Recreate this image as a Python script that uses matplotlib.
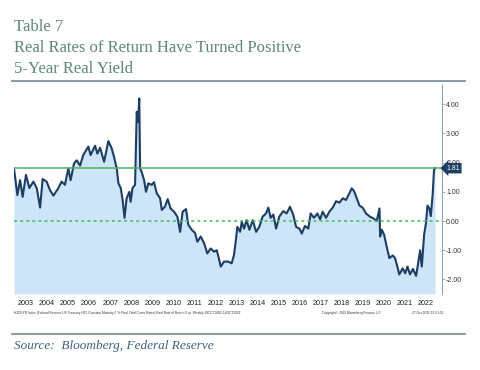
import matplotlib.pyplot as plt

# weekly 5yr real yield (fractional years, percent)
years = [2002.80, 2002.96, 2003.09, 2003.21, 2003.37, 2003.53, 2003.72, 2003.88, 2004.04, 2004.16,
         2004.35, 2004.51, 2004.67, 2004.91, 2005.06, 2005.22, 2005.38, 2005.49, 2005.65, 2005.78,
         2005.94, 2006.09, 2006.33, 2006.44, 2006.65, 2006.76, 2006.89, 2007.08, 2007.28, 2007.44,
         2007.55, 2007.68, 2007.76, 2007.87, 2007.96, 2008.05, 2008.15, 2008.28, 2008.34, 2008.43,
         2008.55, 2008.63, 2008.69, 2008.75, 2008.79, 2008.87, 2008.98, 2009.07, 2009.18, 2009.34,
         2009.45, 2009.58, 2009.74, 2009.82, 2009.97, 2010.10, 2010.24, 2010.40, 2010.56, 2010.69,
         2010.81, 2010.97, 2011.08, 2011.24, 2011.40, 2011.51, 2011.67, 2011.83, 2011.98, 2012.14,
         2012.30, 2012.43, 2012.51, 2012.62, 2012.78, 2012.98, 2013.14, 2013.25, 2013.35, 2013.41,
         2013.54, 2013.62, 2013.73, 2013.85, 2013.98, 2014.14, 2014.30, 2014.45, 2014.61, 2014.77,
         2014.88, 2014.99, 2015.12, 2015.25, 2015.40, 2015.59, 2015.75, 2015.91, 2016.07, 2016.20,
         2016.36, 2016.47, 2016.62, 2016.78, 2016.89, 2017.05, 2017.21, 2017.34, 2017.46, 2017.62,
         2017.78, 2017.94, 2018.10, 2018.26, 2018.42, 2018.57, 2018.73, 2018.84, 2018.95, 2019.08,
         2019.21, 2019.36, 2019.52, 2019.71, 2019.87, 2020.03, 2020.16, 2020.19, 2020.27, 2020.38,
         2020.50, 2020.63, 2020.79, 2020.90, 2021.01, 2021.10, 2021.26, 2021.38, 2021.49, 2021.61,
         2021.75, 2021.90, 2022.01, 2022.09, 2022.17, 2022.28, 2022.37, 2022.44, 2022.53, 2022.60,
         2022.69, 2022.75, 2022.80]
yields = [1.80, 0.89, 1.40, 0.83, 1.58, 1.13, 1.35, 1.13, 0.46, 1.44,
          1.35, 1.06, 0.87, 1.13, 1.35, 1.24, 1.80, 1.40, 1.97, 2.08,
          1.90, 2.26, 2.55, 2.26, 2.58, 2.31, 2.51, 2.03, 2.74, 2.49,
          2.20, 1.80, 1.29, 1.13, 0.72, 0.11, 0.78, 1.00, 0.66, 1.13,
          1.24, 3.74, 3.40, 4.20, 1.80, 1.67, 1.40, 1.00, 1.29, 1.24,
          1.33, 0.95, 0.78, 0.38, 0.49, 0.75, 0.43, 0.32, 0.15, -0.37,
          0.32, 0.41, -0.13, -0.30, -0.41, -0.71, -0.53, -0.76, -1.11, -0.94,
          -1.05, -1.00, -1.22, -1.56, -1.39, -1.39, -1.45, -1.16, -0.59, -0.20,
          -0.37, -0.03, -0.26, 0.03, -0.30, 0.03, -0.37, -0.20, 0.15, 0.26,
          0.46, 0.11, 0.22, -0.26, 0.15, 0.34, 0.26, 0.49, 0.20, -0.20,
          -0.26, -0.43, -0.17, -0.26, 0.26, 0.11, 0.26, 0.06, 0.32, 0.11,
          0.32, 0.46, 0.68, 0.63, 0.78, 0.72, 0.95, 1.12, 1.03, 0.78,
          0.53, 0.46, 0.26, 0.15, 0.09, 0.00, 0.43, -0.53, -0.30, -0.47,
          -0.87, -1.27, -1.18, -1.27, -1.56, -1.83, -1.62, -1.79, -1.56, -1.83,
          -1.64, -1.88, -1.39, -1.00, -1.56, -0.47, -0.07, 0.53, 0.43, 0.17,
          0.95, 1.75, 1.81]
last_value = 1.81
year_labels = [str(y) for y in range(2003, 2023)]
ytick_vals = [4, 3, 2, 1, 0, -1, -2]

title_col = '#5f8878'
rule_col = '#7d93a0'

fig = plt.figure(figsize=(4.8, 3.7), dpi=100)

# header
fig.text(14 / 480, 1 - 27 / 370, 'Table 7', family='Liberation Serif', size=12, color=title_col, va='center')
fig.text(14 / 480, 1 - 48 / 370, 'Real Rates of Return Have Turned Positive', family='Liberation Serif',
         size=12, color=title_col, va='center')
fig.text(14 / 480, 1 - 69 / 370, '5-Year Real Yield', family='Liberation Serif', size=12,
         color=title_col, va='center')
fig.add_artist(plt.Line2D([12 / 480, 465 / 480], [1 - 81 / 370, 1 - 81 / 370], color=rule_col, lw=1.3))

ax = fig.add_axes([14 / 480, 1 - 294 / 370, 428 / 480, 209 / 370])
ax.fill_between(years, yields, -2.5, color='#cde4f9', lw=0)
ax.plot(years, yields, color='#1d3d63', lw=1.5)
ax.axhline(last_value, color='#4caf62', lw=1.1)
ax.axhline(0, color='#3cc060', lw=1.1, ls=(0, (2, 2)))
ax.set_xlim(2002.8, 2023.13)
ax.set_ylim(-2.5, 4.66)

for s in ['left', 'top', 'bottom']:
    ax.spines[s].set_visible(False)
ax.spines['right'].set_color('#8fa3b8')
ax.yaxis.tick_right()
ax.set_yticks(ytick_vals)
ax.set_yticklabels(['%.2f' % v for v in ytick_vals], family='Liberation Sans', size=5, color='#333333')
ax.tick_params(axis='y', length=2, width=0.6, color='#8fa3b8', pad=1)
ax.set_xticks([int(y) + 0.37 for y in year_labels])
ax.set_xticklabels(year_labels, family='Liberation Sans', size=5.2, color='#222222')
ax.tick_params(axis='x', length=0, pad=4)

ax.annotate('%.2f' % last_value, xy=(1.0, last_value), xycoords=('axes fraction', 'data'),
            xytext=(3, 0), textcoords='offset points', va='center', ha='left',
            family='Liberation Sans', size=5, color='white', zorder=5,
            bbox=dict(boxstyle='larrow,pad=0.25', fc='#1d3d63', ec='none'))

# bloomberg footer
fig.text(14 / 480, 1 - 313 / 370,
         'H2DEYR Index (Federal Reserve US Treasury H15 Constant Maturity 5 Yr Real Yield Curve Rates) '
         'Real Rate of Return 5-yr  Weekly 18OCT2002-14OCT2022',
         family='Liberation Sans', size=2.3, color='#333333', va='center')
fig.text(322 / 480, 1 - 313 / 370, 'Copyright\u00a9 2022 Bloomberg Finance L.P.',
         family='Liberation Sans', size=2.3, color='#333333', va='center')
fig.text(412 / 480, 1 - 313 / 370, '27-Oct-2022 15:51:51',
         family='Liberation Sans', size=2.3, color='#333333', va='center')

fig.add_artist(plt.Line2D([12 / 480, 465 / 480], [1 - 334 / 370, 1 - 334 / 370], color=rule_col, lw=1.3))
fig.text(14 / 480, 1 - 346 / 370, 'Source:  Bloomberg, Federal Reserve', family='Liberation Serif',
         style='italic', size=9.5, color='#3d5f80', va='center')

fig.savefig('out.png', dpi=100)
